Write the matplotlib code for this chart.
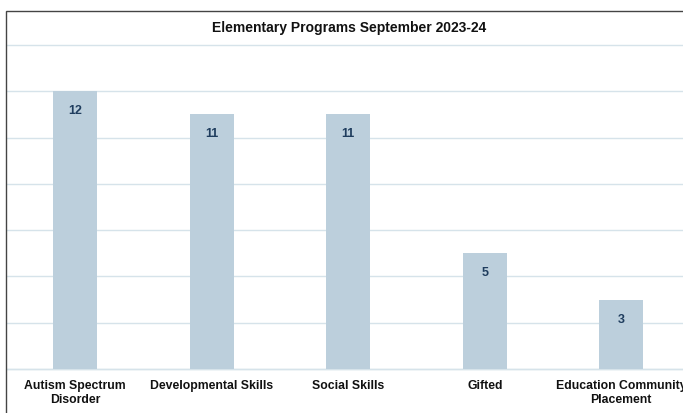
import matplotlib.pyplot as plt
from matplotlib.patches import Rectangle

# programs and student counts
programs = ["Autism Spectrum\nDisorder", "Developmental Skills", "Social Skills",
            "Gifted", "Education Community\nPlacement"]
counts = [12, 11, 11, 5, 3]

TITLE = "Elementary Programs September 2023-24"
BAR_COLOR = "#bccfdc"
GRID_COLOR = "#d6e3ea"
LABEL_COLOR = "#1f3d5e"

plt.rcParams["font.family"] = ["Liberation Sans", "DejaVu Sans"]

fig = plt.figure(figsize=(6.83, 4.13), dpi=100)
ax = fig.add_axes([7 / 683, 44 / 413, 682.5 / 683, 324 / 413])

x = range(len(programs))
bars = ax.bar(x, counts, width=0.32, color=BAR_COLOR, zorder=2)

ax.set_xlim(-0.5, len(programs) - 0.5)
ax.set_ylim(0, 14)
ax.set_yticks(range(0, 15, 2))
ax.yaxis.grid(True, color=GRID_COLOR, linewidth=1, zorder=0, clip_on=False)
ax.axhline(0, color=GRID_COLOR, linewidth=1, zorder=1, clip_on=False)
ax.tick_params(axis="y", left=False, labelleft=False)
ax.tick_params(axis="x", length=0, pad=8)
ax.set_xticks(list(x))
ax.set_xticklabels(programs, fontsize=8.8, fontweight="bold", color="#111111",
                   linespacing=1.2)
for s in ax.spines.values():
    s.set_visible(False)

# count printed just inside the top of each bar
for b, v in zip(bars, counts):
    ax.annotate(str(v), (b.get_x() + b.get_width() / 2, v), xytext=(0, -20),
                textcoords="offset pixels",
                ha="center", va="center", fontsize=9, fontweight="bold",
                color=LABEL_COLOR)

fig.text(349 / 683, 1 - 28 / 413, TITLE, ha="center", va="center",
         fontsize=10, fontweight="bold", color="#111111")

# chart frame
fig.patches.append(Rectangle((6 / 683, -0.1), 1.0, 1 - 11 / 413 + 0.1,
                             transform=fig.transFigure, fill=False,
                             edgecolor="#444444", linewidth=1))

fig.savefig("out.png", dpi=100)
